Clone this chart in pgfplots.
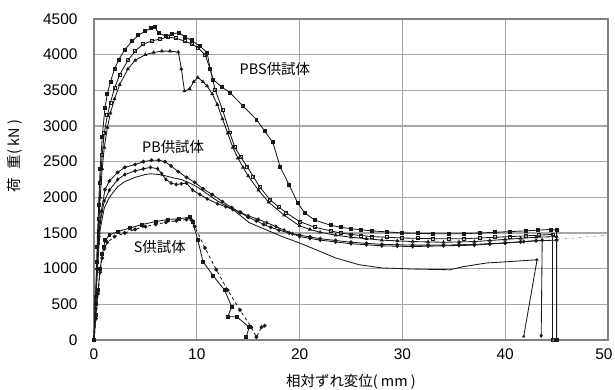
\documentclass[border=0pt]{standalone}
\usepackage{fontspec}
\setmainfont{Liberation Sans}
\newfontfamily\jp{Noto Sans CJK JP}
\usepackage{pgfplots}
\pgfplotsset{compat=1.18}
\pgfplotsset{ser/.style={black!90, line width=0.85pt, mark size=1.5pt}}
\begin{document}
\begin{tikzpicture}
\useasboundingbox (-94bp,-50bp) rectangle (521bp,340bp);
\begin{axis}[
  scale only axis, width=514bp, height=321bp,
  at={(0,0)}, anchor=south west,
  xmin=0, xmax=50, ymin=0, ymax=4500,
  xtick={0,10,...,50}, ytick={0,500,...,4500},
  xticklabels={0,10,20,30,40,\kern-8bp 50},
  major tick length=0pt,
  grid=major,
  major grid style={draw=black!35, line width=1.1pt},
  axis line style={draw=black!50, line width=1.3pt},
  /pgf/number format/assume math mode=true,
  /pgf/number format/1000 sep={},
  tick label style={font=\fontsize{15.5}{18}\selectfont},
  yticklabel style={xshift=-13bp},
  xticklabel style={yshift=-5bp},
  xlabel={相対ずれ変位( mm )},
  ylabel={荷\hspace{0.6em}重( kN )},
  every axis x label/.style={at={(rel axis cs:0.5,0)}, yshift=-42bp, anchor=center, font=\jp\fontsize{14.5}{17}\selectfont},
  every axis y label/.style={at={(rel axis cs:0,0.573)}, xshift=-79bp, rotate=90, anchor=center, font=\jp\fontsize{14.5}{17}\selectfont},
  clip=false,
]
% PBS specimens
\addplot[ser, mark=square*] coordinates {(0,0)(0.15,600)(0.3,1300)(0.45,1900)(0.6,2400)(0.8,2850)(1.07,3260)(1.3,3450)(1.6,3620)(2,3800)(2.4,3930)(3,4070)(3.7,4190)(4.3,4270)(5,4330)(5.5,4370)(5.9,4390)(6.3,4300)(7,4260)(7.6,4290)(8.3,4310)(8.8,4250)(9.5,4200)(10.3,4120)(11,4030)(11.3,3800)(11.6,3650)(12.4,3550)(13.2,3470)(14.5,3280)(15.8,3090)(16.6,2930)(17.4,2770)(18.1,2430)(19,2170)(19.8,1925)(20.5,1780)(21.5,1680)(23,1610)(24,1580)(25,1560)(26,1545)(27,1530)(28.5,1515)(30,1500)(31.5,1495)(33,1490)(34.5,1490)(36,1490)(37.5,1500)(39,1510)(40.5,1520)(42,1530)(43.2,1540)(44.4,1550)(45,1540)(45,0)};
\addplot[ser, mark=square, mark options={fill=white, solid}] coordinates {(0,0)(0.15,500)(0.3,1100)(0.45,1700)(0.6,2200)(0.8,2600)(1,2900)(1.3,3150)(1.6,3330)(2,3530)(2.5,3720)(3.3,3920)(4,4050)(4.8,4150)(5.6,4190)(6.4,4220)(7.2,4245)(8,4230)(8.8,4190)(9.5,4150)(10.1,4100)(10.8,4000)(11.3,3800)(11.8,3500)(12.5,3230)(13.2,2910)(13.7,2700)(14.3,2560)(14.9,2430)(15.5,2290)(16.1,2150)(17.1,1970)(18,1860)(18.7,1785)(20,1660)(21.5,1580)(23,1530)(24,1500)(25,1480)(26,1465)(27,1450)(28.5,1440)(30,1430)(31.5,1425)(33,1420)(34.5,1420)(36,1420)(37.5,1430)(39,1440)(40.5,1450)(42,1460)(43.3,1470)(44.6,1480)(44.6,0)};
\addplot[ser, mark=triangle*] coordinates {(0,0)(0.15,450)(0.3,1000)(0.45,1550)(0.6,2000)(0.8,2400)(1,2700)(1.3,2980)(1.6,3180)(2,3380)(2.5,3580)(3.3,3800)(4,3920)(5,4000)(5.8,4030)(6.6,4050)(7.4,4050)(8.2,4035)(8.5,3800)(8.8,3490)(9.3,3520)(9.7,3620)(10.1,3680)(10.6,3620)(11,3560)(11.5,3450)(12,3300)(12.5,3100)(13,2900)(13.5,2700)(14,2550)(14.5,2420)(15,2300)(16,2100)(17,1930)(18.5,1750)(20,1600)(21,1550)(22,1510)(23.5,1470)(25,1440)(26.5,1420)(28,1400)(29.5,1390)(31,1380)(32.5,1375)(34,1370)(35.5,1375)(37,1380)(38.5,1395)(40,1410)(41.5,1425)(43,1440)(45,1450)};
% PB specimens
\addplot[ser, mark=*] coordinates {(0,0)(0.15,500)(0.3,1000)(0.45,1450)(0.7,1800)(1.07,2110)(1.5,2230)(2.3,2350)(3,2420)(4,2460)(4.8,2500)(5.6,2520)(6.3,2520)(6.9,2500)(7.5,2440)(8.2,2360)(9,2280)(9.8,2210)(10.6,2120)(11.5,2040)(12.5,1940)(13.4,1855)(14.2,1790)(15,1720)(15.8,1670)(16.5,1620)(17.2,1580)(18,1540)(19,1500)(20,1470)(21,1445)(22,1420)(23.5,1395)(25,1370)(26.5,1355)(28,1340)(29.5,1335)(31,1330)(32.5,1330)(34,1330)(35.5,1335)(37,1340)(38.5,1350)(40,1360)(41.5,1375)(43,1390)(45,1400)};
\addplot[ser, mark=diamond*] coordinates {(0,0)(0.15,550)(0.3,1000)(0.45,1350)(0.6,1650)(1,1950)(1.5,2100)(2.3,2250)(3,2320)(4,2370)(4.8,2400)(5.5,2420)(6.2,2400)(6.6,2330)(7,2250)(7.5,2200)(8,2180)(8.5,2190)(9,2200)(9.6,2100)(10.3,2040)(11,1980)(12,1910)(12.8,1870)(13.5,1830)(14.3,1785)(15,1740)(16,1690)(16.8,1645)(17.7,1590)(18.5,1540)(19.3,1490)(20,1450)(21,1425)(22,1400)(23.5,1375)(25,1350)(26.5,1335)(28,1320)(29.5,1315)(31,1310)(32.5,1315)(34,1320)(35.5,1325)(37,1330)(38.5,1345)(40,1360)(41.8,1380)(43.6,1400)(43.5,60)};
\addplot[black!90, line width=0.85pt] coordinates {(0,0)(0.15,450)(0.3,900)(0.45,1250)(0.6,1550)(1,1850)(1.5,2000)(2.3,2150)(3,2220)(4,2280)(5,2320)(5.5,2330)(6.3,2320)(7,2300)(7.8,2270)(8.5,2250)(9.3,2200)(10,2150)(11,2050)(12,1950)(13.5,1830)(15.1,1645)(16.5,1560)(18.3,1450)(20,1360)(21.6,1265)(23.5,1150)(25.8,1055)(28,1010)(31,995)(34.6,985)(36,1030)(38.2,1080)(40.5,1100)(43.1,1125)(41.8,50)};
\addplot[black!90, only marks, mark size=1.5pt, mark=triangle*] coordinates {(41.8,50)(43.1,1125)};
% reference dash
\addplot[draw=black!45, dashdotted, line width=0.5pt] coordinates {(45,1410)(47.5,1440)(50,1470)};
% S specimens
\addplot[ser, mark=square*] coordinates {(0,0)(0.2,350)(0.4,700)(0.6,1000)(0.8,1200)(0.95,1300)(1.07,1400)(1.5,1470)(2.3,1520)(3.5,1570)(4.7,1620)(6,1660)(7.2,1690)(8.3,1700)(9.3,1720)(9.6,1650)(10.1,1400)(10.6,1100)(11.6,900)(12.7,700)(13.4,465)(13,325)(13.9,325)(15.1,180)(14.8,40)};
\addplot[ser, mark=*, dashed, mark options={solid}] coordinates {(0,0)(0.2,300)(0.4,650)(0.6,950)(0.8,1150)(1,1280)(1.3,1370)(2,1450)(3,1500)(4,1550)(5,1590)(6,1620)(7,1650)(8,1670)(9,1690)(9.5,1680)(9.8,1590)(10.8,1290)(11.9,985)(13,700)(14.2,420)(15.3,180)(15.8,40)(16.3,180)(16.6,200)};
% labels
\node[font=\jp\fontsize{14.5}{17}\selectfont, fill=white, inner sep=1pt] at (axis cs:17.6,3800) {PBS供試体};
\node[font=\jp\fontsize{14.5}{17}\selectfont, inner sep=1pt] at (axis cs:7.7,2700) {PB供試体};
\node[font=\jp\fontsize{14.5}{17}\selectfont, inner sep=1pt] at (axis cs:6.4,1310) {S供試体};
\end{axis}
\end{tikzpicture}
\end{document}
